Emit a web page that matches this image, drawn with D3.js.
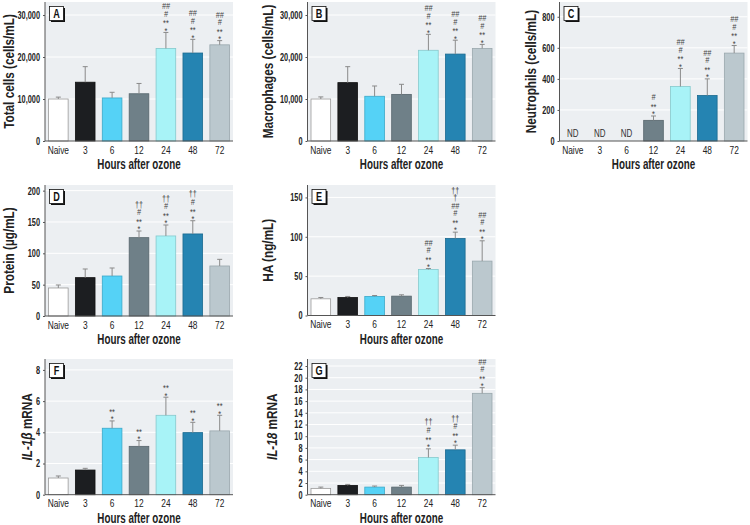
<!DOCTYPE html>
<html>
<head>
<meta charset="utf-8">
<script src="https://cdn.jsdelivr.net/npm/d3@7/dist/d3.min.js"></script>
<style>
  html, body { margin: 0; padding: 0; background: #fff; }
  svg { display: block; }
  text { font-family: "Liberation Sans", Arial, sans-serif; }
</style>
</head>
<body>
<svg id="chart" width="750" height="525"></svg>
<script>
// ---------- DATA ----------
const categories = ["Naive", "3", "6", "12", "24", "48", "72"];
const barColors = ["#ffffff", "#1c1e21", "#55d2f6", "#6f8088", "#a8f3f7", "#2584b2", "#bbc8ce"];
const barStrokes = ["#9a9a9a", "#111111", "#3aa9c9", "#56656c", "#86c9cd", "#1b6a90", "#99a7ad"];

const totalCells = [10000, 14000, 10250, 11250, 22050, 20950, 22900];
const totalCellsErr = [450, 3700, 1350, 2450, 3800, 3250, 1000];
const macrophages = [10000, 13900, 10650, 11100, 21600, 20700, 22050];
const macrophagesErr = [500, 3800, 2450, 2400, 3800, 3300, 950];
const neutrophils = [null, null, null, 133, 351, 293, 566];
const neutrophilsErr = [null, null, null, 28, 116, 107, 49];
const protein = [44.7, 61.2, 63.8, 125, 127.7, 130.9, 79.8];
const proteinErr = [4.8, 13.8, 12.8, 10.6, 17.5, 21.1, 10.6];
const ha = [21.2, 22.9, 24.2, 24.6, 58.5, 97.9, 69.1];
const haErr = [1.7, 1.3, 1.2, 1.7, 1.2, 8.0, 25.8];
const il1b = [1.07, 1.58, 4.26, 3.10, 5.09, 3.98, 4.09];
const il1bErr = [0.13, 0.11, 0.47, 0.37, 1.16, 0.66, 1.0];
const il18 = [1.08, 1.59, 1.30, 1.30, 6.36, 7.67, 17.33];
const il18Err = [0.22, 0.17, 0.18, 0.29, 1.48, 0.80, 0.97];

const S4 = ["##", "#", "**", "*"];
const annotA = [[], [], [], [], S4, S4, S4];
const annotB = [[], [], [], [], S4, S4, S4];
const annotC = [[], [], [], ["#", "**", "*"], S4, S4, S4];
const annotD = [[], [], [], ["††", "#", "**", "*"], ["††", "#", "**", "*"], ["††", "#", "**", "*"], []];
const annotE = [[], [], [], [], S4, ["††", "†", "##", "#", "**", "*"], S4];
const annotF = [[], [], ["**", "*"], ["**", "*"], ["**", "*"], ["**", "*"], ["**", "*"]];
const annotG = [[], [], [], [], ["††", "#", "**", "*"], ["††", "#", "**", "*"], S4];

const ticksA = [0, 10000, 20000, 30000];
const ticksC = [0, 200, 400, 600, 800];
const ticksD = [0, 50, 100, 150, 200];
const ticksE = [0, 50, 100, 150];
const ticksF = [0, 2, 4, 6, 8];
const ticksG = [0, 2, 4, 6, 8, 10, 12, 14, 16, 18, 20, 22];

const xTitle = "Hours after ozone";

// ---------- DRAW ----------
const svg = d3.select("#chart");
const W = 188;

function panel(cfg) {
  const g = svg.append("g");
  const x = d3.scaleBand().domain(categories).range([cfg.left, cfg.left + W])
    .paddingInner(0.27).paddingOuter(0.13);
  const y = d3.scaleLinear().domain([0, cfg.max]).range([cfg.bottom, cfg.top]);

  g.append("rect").attr("x", cfg.left).attr("y", cfg.top)
    .attr("width", W).attr("height", cfg.bottom - cfg.top).attr("fill", "#eceff2");
  g.selectAll(".grid").data(cfg.ticks.filter(d => d > 0)).join("line")
    .attr("x1", cfg.left).attr("x2", cfg.left + W)
    .attr("y1", d => y(d)).attr("y2", d => y(d))
    .attr("stroke", "#ffffff").attr("stroke-width", 1);

  const data = categories.map((c, i) => ({c, i, v: cfg.values[i], e: cfg.err[i], a: cfg.annot[i]}));
  const valid = data.filter(d => d.v != null);
  g.selectAll(".bar").data(valid).join("rect")
    .attr("x", d => x(d.c)).attr("width", x.bandwidth())
    .attr("y", d => y(d.v)).attr("height", d => cfg.bottom - y(d.v))
    .attr("fill", d => barColors[d.i]).attr("stroke", d => barStrokes[d.i]).attr("stroke-width", 0.8);

  const cx = d => x(d.c) + x.bandwidth() / 2;
  const eb = g.selectAll(".err").data(valid).join("g");
  eb.append("line").attr("x1", cx).attr("x2", cx)
    .attr("y1", d => y(d.v)).attr("y2", d => y(d.v + d.e))
    .attr("stroke", "#8a8a8a").attr("stroke-width", 1);
  eb.append("line").attr("x1", d => cx(d) - 2.5).attr("x2", d => cx(d) + 2.5)
    .attr("y1", d => y(d.v + d.e)).attr("y2", d => y(d.v + d.e))
    .attr("stroke", "#8a8a8a").attr("stroke-width", 1);

  const off = {"*": 5.8, "**": 5.8, "#": 3.4, "##": 3.4, "†": 3.0, "††": 3.0};
  valid.forEach(d => {
    const top = y(d.v + d.e);
    const n = d.a.length;
    d.a.forEach((s, k) => {
      const idx = n - 1 - k;
      const cy = top - 4.5 - 7.3 * idx;
      g.append("text").attr("x", cx(d)).attr("y", cy + off[s])
        .attr("text-anchor", "middle").attr("font-size", 9.5)
        .attr("font-style", s.startsWith("#") ? "italic" : "normal")
        .attr("fill", "#444").attr("class", "cond").text(s);
    });
  });

  data.filter(d => d.v == null).forEach(d => {
    g.append("text").attr("x", cx(d)).attr("y", cfg.bottom - 4)
      .attr("text-anchor", "middle").attr("font-size", 10.5).attr("fill", "#333")
      .attr("class", "cond").text("ND");
  });

  g.append("line").attr("x1", cfg.left).attr("x2", cfg.left).attr("y1", cfg.top).attr("y2", cfg.bottom)
    .attr("stroke", "#555").attr("stroke-width", 1);
  g.append("line").attr("x1", cfg.left).attr("x2", cfg.left + W).attr("y1", cfg.bottom).attr("y2", cfg.bottom)
    .attr("stroke", "#555").attr("stroke-width", 1);

  const ya = d3.axisLeft(y).tickValues(cfg.ticks).tickSize(2).tickPadding(3).tickFormat(cfg.fmt || d3.format("d"));
  const yg = g.append("g").attr("transform", `translate(${cfg.left},0)`).call(ya);
  yg.select(".domain").remove();
  yg.selectAll(".tick line").attr("stroke", "#555");
  yg.selectAll("text").attr("font-size", 10.5).attr("font-weight", "bold").attr("fill", "#222")
    .attr("class", "cond").style("font-family", '"Liberation Sans", Arial, sans-serif');

  const xa = d3.axisBottom(x).tickSize(0).tickPadding(5);
  const xg = g.append("g").attr("transform", `translate(0,${cfg.bottom})`).call(xa);
  xg.select(".domain").remove();
  xg.selectAll("text").attr("font-size", 11).attr("fill", "#222")
    .attr("class", "cond").style("font-family", '"Liberation Sans", Arial, sans-serif');

  g.append("text").attr("x", cfg.left + W / 2).attr("y", cfg.bottom + 28)
    .attr("text-anchor", "middle").attr("font-size", 14).attr("font-weight", "bold").attr("fill", "#222")
    .attr("class", "cond").text(xTitle);

  // y title: rotated, horizontally condensed by a scale transform
  const yt = g.append("text")
    .attr("transform", `translate(${cfg.titleX},${(cfg.top + cfg.bottom) / 2}) rotate(-90) scale(0.84,1)`)
    .attr("x", 0).attr("y", 5)
    .attr("text-anchor", "middle")
    .attr("font-size", 14).attr("font-weight", "bold").attr("fill", "#222");
  if (cfg.italicPart) {
    yt.append("tspan").attr("font-style", "italic").attr("font-weight", "bold").text(cfg.italicPart);
    yt.append("tspan").attr("font-weight", "bold").text(cfg.title);
  } else {
    yt.text(cfg.title);
  }

  const bx = cfg.left + 4.5, by = cfg.top + 4.5;
  g.append("rect").attr("x", bx + 1.5).attr("y", by + 1.5).attr("width", 14).attr("height", 14).attr("fill", "#111");
  g.append("rect").attr("x", bx).attr("y", by).attr("width", 14).attr("height", 14)
    .attr("fill", "#fff").attr("stroke", "#111").attr("stroke-width", 0.8);
  g.append("text").attr("x", bx + 7).attr("y", by + 11.5).attr("text-anchor", "middle")
    .attr("font-size", 13).attr("font-weight", "bold").attr("fill", "#111").attr("class", "cond").text(cfg.letter);
}

const fmtComma = d3.format(",");
panel({letter: "A", left: 45, top: 2, bottom: 141, max: 33100, ticks: ticksA, fmt: fmtComma,
  values: totalCells, err: totalCellsErr, annot: annotA, title: "Total cells (cells/mL)", titleX: 9});
panel({letter: "B", left: 307.5, top: 2, bottom: 141, max: 33100, ticks: ticksA, fmt: fmtComma,
  values: macrophages, err: macrophagesErr, annot: annotB, title: "Macrophages (cells/mL)", titleX: 268});
panel({letter: "C", left: 559.5, top: 2, bottom: 141, max: 895, ticks: ticksC,
  values: neutrophils, err: neutrophilsErr, annot: annotC, title: "Neutrophils (cells/mL)", titleX: 531});
panel({letter: "D", left: 45, top: 185, bottom: 316, max: 209, ticks: ticksD,
  values: protein, err: proteinErr, annot: annotD, title: "Protein (µg/mL)", titleX: 9});
panel({letter: "E", left: 307.5, top: 185, bottom: 315.5, max: 165.8, ticks: ticksE,
  values: ha, err: haErr, annot: annotE, title: "HA (ng/mL)", titleX: 268});
panel({letter: "F", left: 45, top: 359, bottom: 494.7, max: 8.7, ticks: ticksF,
  values: il1b, err: il1bErr, annot: annotF, italicPart: "IL-1β", title: " mRNA", titleX: 27});
panel({letter: "G", left: 307.5, top: 359, bottom: 494.7, max: 23.2, ticks: ticksG,
  values: il18, err: il18Err, annot: annotG, italicPart: "IL-18", title: " mRNA", titleX: 272});

// condense text horizontally (reference uses a condensed typeface)
function condense(el, f) {
  const len = el.getComputedTextLength();
  if (len > 0) {
    el.setAttribute("textLength", (len * f).toFixed(2));
    el.setAttribute("lengthAdjust", "spacingAndGlyphs");
  }
}
svg.selectAll("text.cond").each(function () {
  const bold = this.getAttribute("font-weight") === "bold";
  condense(this, bold ? 0.7 : 0.76);
});
</script>
</body>
</html>
